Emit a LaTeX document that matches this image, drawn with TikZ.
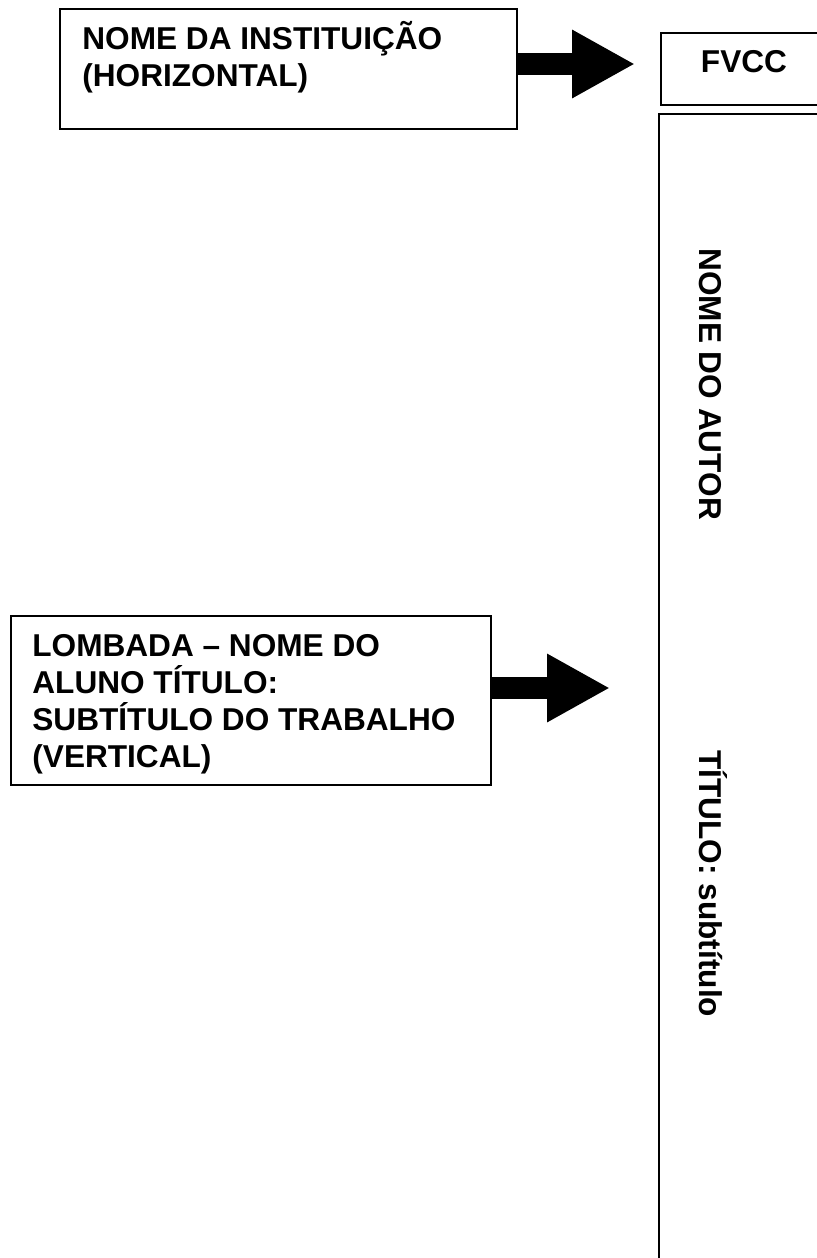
\documentclass[tikz,border=0pt]{standalone}
\usepackage{fontspec}
\setmainfont{Liberation Sans}
\usetikzlibrary{arrows.meta}
\usetikzlibrary{positioning}
\tikzset{
	caixa/.style={
		rectangle,
		draw=black, line width=1pt,
		inner sep=0pt,
		anchor=north west},
	rotulo/.style={
		font=\bfseries\fontsize{15.8}{18.35}\selectfont,
		align=left,
		inner sep=0pt,
		anchor=base west},
	seta/.style={
		draw, line width=11pt,
		-{Triangle[length=31.5pt, width=32pt]}},
}

\begin{document}
\begin{tikzpicture}[x=0.5pt, y=-0.5pt]
	\useasboundingbox (0,0) rectangle (817,1258);
	\clip (0,0) rectangle (817,1258);
	% caixas
	\node[caixa, minimum width=228.5pt, minimum height=60pt] (inst) at (59,8) {};
	\node[caixa, minimum width=240pt, minimum height=84.5pt] (lomb) at (10,615) {};
	\node[caixa, minimum width=100pt, minimum height=36pt] (fvcc) at (660,32) {};
	\node[caixa, minimum width=100pt, minimum height=600pt] (dorso) at (658,113) {};
	% textos (base = ultima linha)
	\node[rotulo] (instTxt) at (82,86) {NOME DA INSTITUIÇÃO\\(HORIZONTAL)};
	\node[rotulo] (lombTxt) at (32,767) {LOMBADA – NOME DO\\ALUNO TÍTULO:\\SUBTÍTULO DO TRABALHO\\(VERTICAL)};
	\node[rotulo, anchor=center] (fvccTxt) at (744,62) {FVCC};
	\node[rotulo, rotate=-90] (autor) at (699,248) {NOME DO AUTOR};
	\node[rotulo, rotate=-90] (titulo) at (699,750) {TÍTULO: subtítulo};
	% setas
	\coordinate (alvo1) at (635,64);
	\coordinate (alvo2) at (610,688);
	\draw[seta] (inst.east |- alvo1) -- (alvo1);
	\draw[seta] (lomb.east |- alvo2) -- (alvo2);
\end{tikzpicture}
\end{document}
